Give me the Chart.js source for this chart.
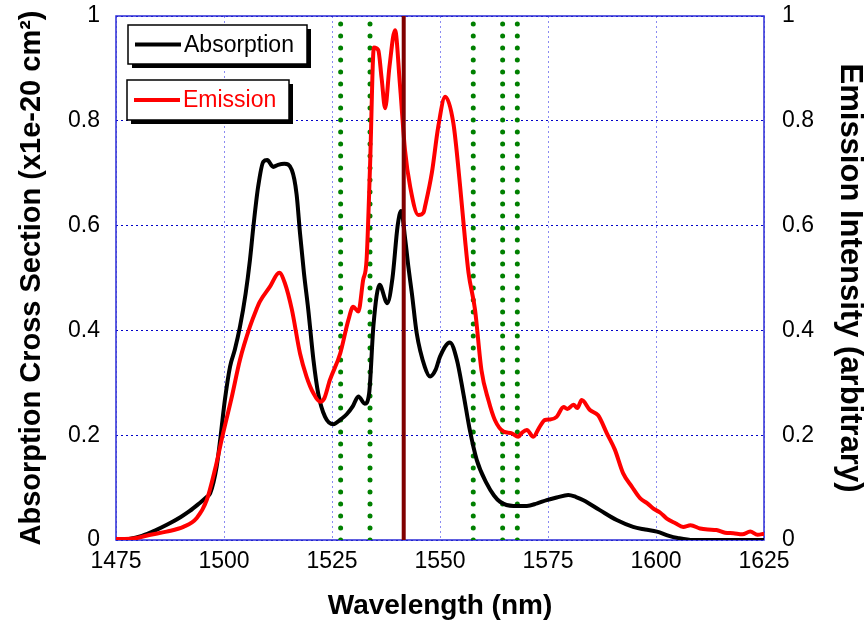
<!DOCTYPE html>
<html>
<head>
<meta charset="utf-8">
<script src="https://cdn.jsdelivr.net/npm/chart.js@4"></script>
<style>
  html, body { margin: 0; padding: 0; background: #fff; }
</style>
</head>
<body>
<canvas id="myChartSpectra" width="868" height="626"></canvas>
<script>
/* global Chart */
// --- data ---
const xTicks = [1475, 1500, 1525, 1550, 1575, 1600, 1625];
const yTicks = [0, 0.2, 0.4, 0.6, 0.8, 1];

const absWavelength = [1475, 1478, 1481, 1484, 1487, 1490, 1492, 1494, 1496, 1496.8, 1498.3, 1499.2, 1500.2, 1501.4, 1502.5, 1503.7, 1505, 1506, 1506.8, 1507.9, 1509.1, 1510, 1511.4, 1512.5, 1514, 1515.7, 1516.8, 1517.6, 1518.5, 1519.5, 1520.7, 1521.8, 1523.4, 1525.3, 1527, 1528.4, 1529.8, 1531.1, 1532.6, 1533.6, 1534.6, 1536, 1537.8, 1539, 1540.2, 1541, 1542, 1542.7, 1543.5, 1544.6, 1546.5, 1547.7, 1549, 1550, 1552.3, 1553.9, 1555.4, 1556.9, 1558.5, 1560.8, 1562.5, 1563.9, 1567, 1570.1, 1572.5, 1574.7, 1577, 1579.7, 1581.5, 1583.2, 1587, 1590.9, 1594.7, 1597.5, 1600.2, 1603, 1605, 1608.6, 1625];
const absValues = [0, 0.002, 0.008, 0.018, 0.03, 0.044, 0.055, 0.068, 0.082, 0.089, 0.14, 0.197, 0.267, 0.331, 0.363, 0.407, 0.47, 0.534, 0.598, 0.674, 0.722, 0.725, 0.712, 0.716, 0.718, 0.706, 0.66, 0.585, 0.51, 0.44, 0.344, 0.28, 0.235, 0.221, 0.23, 0.24, 0.255, 0.274, 0.26, 0.28, 0.41, 0.487, 0.452, 0.5, 0.6, 0.628, 0.57, 0.52, 0.47, 0.395, 0.33, 0.312, 0.325, 0.35, 0.377, 0.344, 0.28, 0.21, 0.153, 0.108, 0.085, 0.073, 0.065, 0.065, 0.07, 0.076, 0.081, 0.086, 0.082, 0.076, 0.057, 0.038, 0.025, 0.02, 0.016, 0.008, 0.004, 0, 0];

const emWavelength = [1475, 1477, 1479.8, 1483, 1486.7, 1490.6, 1493.7, 1496, 1497.9, 1499.8, 1501.8, 1503.7, 1506, 1507.5, 1508.3, 1510.6, 1512.8, 1514.1, 1515.7, 1517.6, 1519.1, 1520.7, 1522.2, 1523.2, 1524.5, 1526.9, 1528.8, 1529.9, 1531.1, 1532.2, 1533, 1533.8, 1534.7, 1535.7, 1536.5, 1537.3, 1538.3, 1539.6, 1540.7, 1541.9, 1543.1, 1545, 1546.2, 1546.5, 1548.1, 1549.6, 1551.2, 1553.1, 1554.6, 1555.8, 1556.6, 1558.1, 1559.6, 1561.2, 1562.7, 1564.7, 1566.5, 1568.1, 1569, 1570.1, 1571.6, 1573, 1574.3, 1575.5, 1577, 1578.6, 1579.5, 1580.9, 1581.8, 1582.8, 1584.7, 1586.6, 1588.6, 1590.5, 1592.4, 1594.4, 1596.3, 1598, 1599.4, 1601, 1602.5, 1604.5, 1606.3, 1608, 1610.2, 1612, 1614, 1616, 1617.9, 1620, 1621.8, 1623.5, 1625];
const emValues = [0.002, 0.002, 0.004, 0.01, 0.016, 0.025, 0.042, 0.076, 0.134, 0.204, 0.273, 0.344, 0.407, 0.44, 0.455, 0.483, 0.51, 0.49, 0.44, 0.356, 0.312, 0.28, 0.264, 0.27, 0.305, 0.356, 0.42, 0.445, 0.436, 0.496, 0.534, 0.712, 0.94, 0.935, 0.88, 0.824, 0.903, 0.973, 0.872, 0.744, 0.674, 0.62, 0.625, 0.635, 0.7, 0.789, 0.846, 0.795, 0.68, 0.573, 0.51, 0.44, 0.324, 0.267, 0.229, 0.207, 0.204, 0.197, 0.205, 0.21, 0.197, 0.215, 0.229, 0.23, 0.235, 0.254, 0.25, 0.258, 0.252, 0.267, 0.248, 0.238, 0.204, 0.172, 0.127, 0.102, 0.08, 0.07, 0.06, 0.052, 0.041, 0.032, 0.025, 0.028, 0.022, 0.02, 0.019, 0.014, 0.013, 0.011, 0.016, 0.01, 0.012];

// channel markers (green dotted) and the single dark red line
const channelLines = [1527, 1533.8, 1557.7, 1564.5, 1567.9];
const markerLine = 1541.6;

const FONT = "'Liberation Sans', Arial, sans-serif";

function toPoints(xs, ys) {
  return xs.map((x, i) => ({ x: x, y: ys[i] }));
}

function vLine(x) {
  return [{ x: x, y: 0 }, { x: x, y: 1 }];
}

// fixed box sizes so the plot area sits where the original one does
function fitY(width) {
  return scale => {
    scale.width = width;
    scale.paddingTop = 0;
    scale.paddingBottom = 0;
  };
}

// plot frame (blue box round the chart area)
const framePlugin = {
  id: "frame",
  beforeDatasetsDraw(chart) {
    const { ctx, chartArea: a } = chart;
    ctx.save();
    ctx.strokeStyle = "#2b2bd6";
    ctx.lineWidth = 1.5;
    ctx.strokeRect(a.left, a.top, a.right - a.left, a.bottom - a.top);
    ctx.restore();
  }
};

// two separate legend boxes with drop shadow, like the original
const boxLegendPlugin = {
  id: "boxLegend",
  afterDraw(chart) {
    const { ctx } = chart;
    const boxes = [
      { ds: chart.data.datasets[0], x: 128, y: 25, w: 179, h: 39, textColor: "#000" },
      { ds: chart.data.datasets[1], x: 127, y: 80, w: 162, h: 40, textColor: "#ff0000" }
    ];
    ctx.save();
    boxes.forEach(b => {
      ctx.fillStyle = "#000";
      ctx.fillRect(b.x + 4, b.y + 4, b.w, b.h);
      ctx.fillStyle = "#fff";
      ctx.fillRect(b.x, b.y, b.w, b.h);
      ctx.strokeStyle = "#000";
      ctx.lineWidth = 1.5;
      ctx.strokeRect(b.x, b.y, b.w, b.h);
      const midY = b.y + b.h / 2;
      ctx.strokeStyle = b.ds.borderColor;
      ctx.lineWidth = 4;
      ctx.beginPath();
      ctx.moveTo(b.x + 7, midY);
      ctx.lineTo(b.x + 53, midY);
      ctx.stroke();
      ctx.fillStyle = b.textColor;
      ctx.font = "23px " + FONT;
      ctx.textBaseline = "middle";
      ctx.fillText(b.ds.label, b.x + 56, midY + 1);
    });
    ctx.restore();
  }
};

document.addEventListener("DOMContentLoaded", () => {
  const canvas = document.getElementById("myChartSpectra");
  if (!(canvas instanceof HTMLCanvasElement)) return;
  const ctx = canvas.getContext("2d");

  const datasets = [
    {
      label: "Absorption",
      data: toPoints(absWavelength, absValues),
      yAxisID: "y",
      borderColor: "#000000",
      borderWidth: 4,
      pointRadius: 0,
      cubicInterpolationMode: "monotone",
      order: 2
    },
    {
      label: "Emission",
      data: toPoints(emWavelength, emValues),
      yAxisID: "y2",
      borderColor: "#ff0000",
      borderWidth: 4,
      pointRadius: 0,
      cubicInterpolationMode: "monotone",
      order: 1
    }
  ];

  channelLines.forEach(c => {
    datasets.push({
      label: "channel " + c,
      data: vLine(c),
      yAxisID: "y",
      borderColor: "#008000",
      borderWidth: 5,
      borderDash: [0, 12],
      borderCapStyle: "round",
      pointRadius: 0,
      order: 3
    });
  });

  datasets.push({
    label: "marker",
    data: vLine(markerLine),
    yAxisID: "y",
    borderColor: "#800000",
    borderWidth: 4,
    pointRadius: 0,
    order: 0
  });

  new Chart(ctx, {
    type: "line",
    data: { datasets: datasets },
    options: {
      responsive: false,
      animation: false,
      layout: { padding: { top: 16, left: 0, right: 0, bottom: 0 } },
      plugins: {
        legend: { display: false },
        tooltip: { enabled: false }
      },
      scales: {
        x: {
          type: "linear",
          min: xTicks[0],
          max: xTicks[xTicks.length - 1],
          afterBuildTicks: scale => { scale.ticks = xTicks.map(v => ({ value: v })); },
          afterFit: scale => { scale.height = 86; },
          ticks: {
            color: "#000",
            font: { family: FONT, size: 23 },
            padding: 8,
            maxRotation: 0,
            callback: v => String(v)
          },
          grid: { color: "#8a8af2", lineWidth: 1, drawTicks: false },
          border: { display: false, dash: [2, 3] },
          title: {
            display: true,
            text: "Wavelength (nm)",
            color: "#000",
            font: { family: FONT, size: 28, weight: "bold" },
            padding: { top: 0, bottom: 3 }
          }
        },
        y: {
          type: "linear",
          position: "left",
          min: 0,
          max: 1,
          afterBuildTicks: scale => { scale.ticks = yTicks.map(v => ({ value: v })); },
          afterFit: fitY(116),
          ticks: {
            color: "#000",
            font: { family: FONT, size: 23 },
            padding: 16,
            callback: v => String(v)
          },
          grid: { color: "#0000c8", lineWidth: 1, drawTicks: false },
          border: { display: false, dash: [2, 3] },
          title: {
            display: true,
            text: "Absorption Cross Section (x1e-20 cm²)",
            color: "#000",
            font: { family: FONT, size: 29, weight: "bold" },
            padding: { top: 15, bottom: 0 }
          }
        },
        y2: {
          type: "linear",
          position: "right",
          min: 0,
          max: 1,
          afterBuildTicks: scale => { scale.ticks = yTicks.map(v => ({ value: v })); },
          afterFit: fitY(104),
          ticks: {
            color: "#000",
            font: { family: FONT, size: 23 },
            padding: 10,
            callback: v => String(v)
          },
          grid: { display: false, drawOnChartArea: false },
          border: { display: false },
          title: {
            display: true,
            text: "Emission Intensity (arbitrary)",
            color: "#000",
            font: { family: FONT, size: 31, weight: "bold" },
            padding: { top: 0, bottom: 0 }
          }
        }
      }
    },
    plugins: [framePlugin, boxLegendPlugin]
  });
});
</script>
</body>
</html>
